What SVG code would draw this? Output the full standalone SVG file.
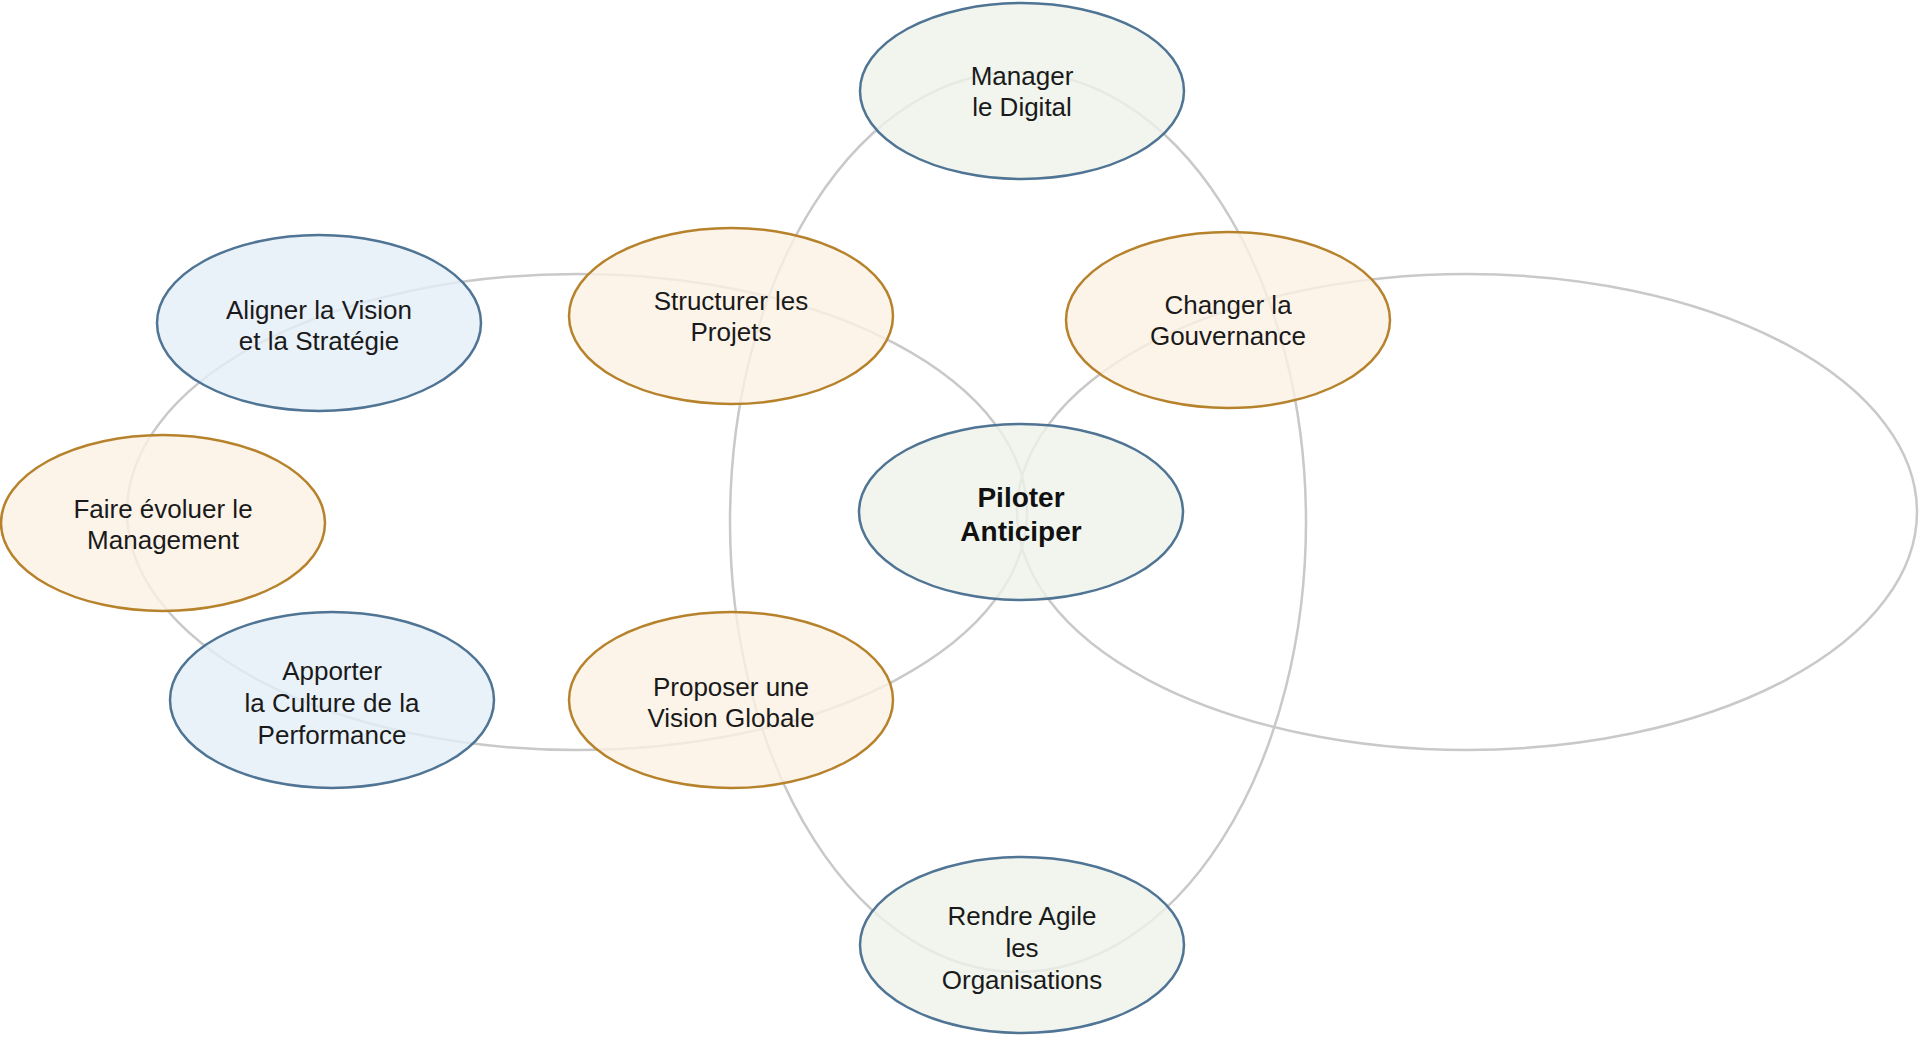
<svg xmlns="http://www.w3.org/2000/svg" width="1920" height="1038" viewBox="0 0 1920 1038">
<style>
.ring{fill:none;stroke:#c9c9c9;stroke-width:2.5}
.blue{fill:#e4edf7;fill-opacity:0.8;stroke:#4f7494;stroke-width:2.5}
.orange{fill:#fbf1e4;fill-opacity:0.8;stroke:#b7822c;stroke-width:2.5}
.green{fill:#edf2ea;fill-opacity:0.8;stroke:#4f7494;stroke-width:2.5}
text{font-family:"Liberation Sans",Arial,sans-serif;font-size:26px;fill:#1a1a1a;text-anchor:middle}
.bold{font-weight:bold;font-size:28px;fill:#111}
</style>
<rect width="1920" height="1038" fill="#ffffff"/>
<g id="connectors">
<ellipse class="ring" cx="577" cy="512" rx="450" ry="238"/>
<ellipse class="ring" cx="1467" cy="512" rx="450" ry="238"/>
<ellipse class="ring" cx="1018" cy="522" rx="288" ry="450"/>
</g>
<g id="manager">
<ellipse class="green" cx="1022" cy="91" rx="162" ry="88"/>
<text x="1022" y="85">Manager</text><text x="1022" y="116">le Digital</text>
</g>
<g id="structurer">
<ellipse class="orange" cx="731" cy="316" rx="162" ry="88"/>
<text x="731" y="310">Structurer les</text><text x="731" y="341">Projets</text>
</g>
<g id="changer">
<ellipse class="orange" cx="1228" cy="320" rx="162" ry="88"/>
<text x="1228" y="314">Changer la</text><text x="1228" y="345">Gouvernance</text>
</g>
<g id="aligner">
<ellipse class="blue" cx="319" cy="323" rx="162" ry="88"/>
<text x="319" y="319">Aligner la Vision</text><text x="319" y="350">et la Stratégie</text>
</g>
<g id="piloter">
<ellipse class="green" cx="1021" cy="512" rx="162" ry="88"/>
<text class="bold" x="1021" y="507">Piloter</text><text class="bold" x="1021" y="541">Anticiper</text>
</g>
<g id="faire">
<ellipse class="orange" cx="163" cy="523" rx="162" ry="88"/>
<text x="163" y="518">Faire évoluer le</text><text x="163" y="549">Management</text>
</g>
<g id="apporter">
<ellipse class="blue" cx="332" cy="700" rx="162" ry="88"/>
<text x="332" y="680">Apporter</text><text x="332" y="712">la Culture de la</text><text x="332" y="744">Performance</text>
</g>
<g id="proposer">
<ellipse class="orange" cx="731" cy="700" rx="162" ry="88"/>
<text x="731" y="696">Proposer une</text><text x="731" y="727">Vision Globale</text>
</g>
<g id="rendre">
<ellipse class="green" cx="1022" cy="945" rx="162" ry="88"/>
<text x="1022" y="925">Rendre Agile</text><text x="1022" y="957">les</text><text x="1022" y="989">Organisations</text>
</g>
</svg>
